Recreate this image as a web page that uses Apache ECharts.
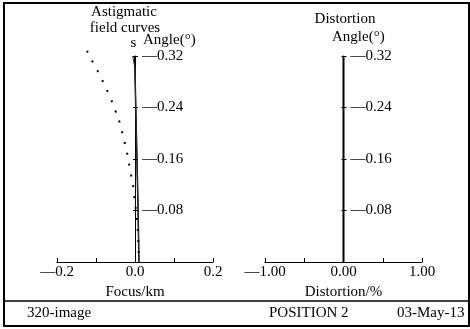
<!DOCTYPE html>
<html>
<head>
<meta charset="utf-8">
<script src="https://cdn.jsdelivr.net/npm/echarts@6/dist/echarts.min.js"></script>
<style>
    html, body {margin: 0; padding: 0; background: #fff;}
    #main {width: 470px; height: 329px;}
</style>
</head>
<body>
<div id="main"></div>
<script>
// field curves, left plot (focus in km vs field angle in deg)
var sAngle = [0, 0.08, 0.16, 0.24, 0.32];
var sFocus = [0.010, 0.008, 0.005, 0.002, -0.001];
var s2Angle = [0, 0.08, 0.16, 0.24, 0.30, 0.32];
var s2Focus = [0.010, 0.008, 0.005, 0.002, 0.000, -0.006];
// dotted curve, listed from the top so the dot pattern starts at its tip
var tAngle = [0.328, 0.309, 0.290, 0.272, 0.255, 0.236, 0.216, 0.194, 0.179, 0.162, 0.141, 0.123, 0.112, 0.065, 0.039, 0];
var tFocus = [-0.123, -0.107, -0.090, -0.076, -0.063, -0.051, -0.039, -0.030, -0.024, -0.018, -0.012, -0.006, -0.004, 0.005, 0.008, 0.010];

// distortion, right plot (% vs field angle)
var distAngle = [0, 0.08, 0.16, 0.24, 0.32];
var distValue = [0, 0, 0, 0, 0];

var font = 'Liberation Serif';
var ink = '#000';

function pairs(xs, ys) {
    var out = [];
    for (var i = 0; i < xs.length; i++) {
        out.push([xs[i], ys[i]]);
    }
    return out;
}

function angleLabel(v) {
    if (v == 0) return '';
    return '—' + v.toFixed(2);
}

function focusLabel(v) {
    if (Math.round(v * 10) % 2 != 0) return '';
    if (v < 0) return '—' + (-v).toFixed(1);
    return v.toFixed(1);
}

function distLabel(v) {
    if (Math.round(v * 2) % 2 != 0) return '';
    if (v < 0) return '—' + (-v).toFixed(2);
    return v.toFixed(2);
}

function xAxisOf(grid, min, max, interval, fmt, name) {
    return {
        type: 'value', gridIndex: grid, min: min, max: max, interval: interval,
        name: name, nameLocation: 'middle', nameGap: 17,
        nameTextStyle: {fontFamily: font, fontSize: 15, color: ink},
        axisLine: {onZero: false, lineStyle: {color: ink, width: 1}},
        axisTick: {inside: true, length: 4, lineStyle: {color: ink}},
        axisLabel: {formatter: fmt, margin: 3, fontFamily: font, fontSize: 15, color: ink},
        splitLine: {show: false}
    };
}

// the angle axis sits at x = 0, so pull it in from the grid edge
function yAxisOf(grid, side, shift) {
    var main = side == 'right';
    return {
        type: 'value', gridIndex: grid, min: 0, max: 0.32, interval: 0.08,
        position: side, offset: shift,
        axisLine: {show: main, onZero: false, lineStyle: {color: ink, width: 1}},
        axisTick: {length: main ? 3 : 2, lineStyle: {color: ink}},
        axisLabel: {show: main, formatter: angleLabel, margin: 7, fontFamily: font, fontSize: 15, color: ink},
        splitLine: {show: false}
    };
}

function txt(x, y, text, align) {
    return {
        type: 'text', x: x, y: y,
        style: {text: text, textAlign: align || 'center', textVerticalAlign: 'middle',
            fontFamily: font, fontSize: 15, fill: ink}
    };
}

var chart = echarts.init(document.getElementById('main'));
chart.setOption({
    animation: false,
    backgroundColor: '#fff',
    grid: [
        {left: 57, top: 56, width: 156, height: 206},
        {left: 265, top: 56, width: 157, height: 206}
    ],
    xAxis: [
        xAxisOf(0, -0.2, 0.2, 0.1, focusLabel, 'Focus/km'),
        xAxisOf(1, -1, 1, 0.5, distLabel, 'Distortion/%')
    ],
    yAxis: [
        yAxisOf(0, 'right', -78),
        yAxisOf(0, 'left', -78),
        yAxisOf(1, 'right', -78.5),
        yAxisOf(1, 'left', -78.5)
    ],
    series: [
        {
            type: 'line', xAxisIndex: 0, yAxisIndex: 0, data: pairs(sFocus, sAngle),
            symbol: 'none', clip: false, lineStyle: {color: ink, width: 1.5}
        },
        {
            type: 'line', xAxisIndex: 0, yAxisIndex: 0, data: pairs(s2Focus, s2Angle),
            symbol: 'none', clip: false, lineStyle: {color: '#333', width: 1}
        },
        {
            type: 'line', xAxisIndex: 0, yAxisIndex: 0, data: pairs(tFocus, tAngle),
            symbol: 'none', smooth: true, clip: false,
            lineStyle: {color: ink, width: 2, type: [2, 9]}
        },
        {
            type: 'line', xAxisIndex: 1, yAxisIndex: 2, data: pairs(distValue, distAngle),
            symbol: 'none', clip: false, lineStyle: {color: ink, width: 2}
        }
    ],
    graphic: [
        {
            type: 'rect', shape: {x: 4, y: 3, width: 465, height: 323},
            style: {fill: 'none', stroke: ink, lineWidth: 2}
        },
        {
            type: 'line', shape: {x1: 4, y1: 301, x2: 469, y2: 301},
            style: {stroke: ink, lineWidth: 1.5}
        },
        txt(124, 12, 'Astigmatic'),
        txt(125, 28, 'field curves'),
        txt(133.5, 43, 's'),
        txt(143, 40, 'Angle(°)', 'left'),
        txt(345, 19, 'Distortion'),
        txt(332, 37, 'Angle(°)', 'left'),
        txt(27, 313, '320-image', 'left'),
        txt(269, 313, 'POSITION 2', 'left'),
        txt(397, 313, '03-May-13', 'left')
    ]
});
</script>
</body>
</html>
